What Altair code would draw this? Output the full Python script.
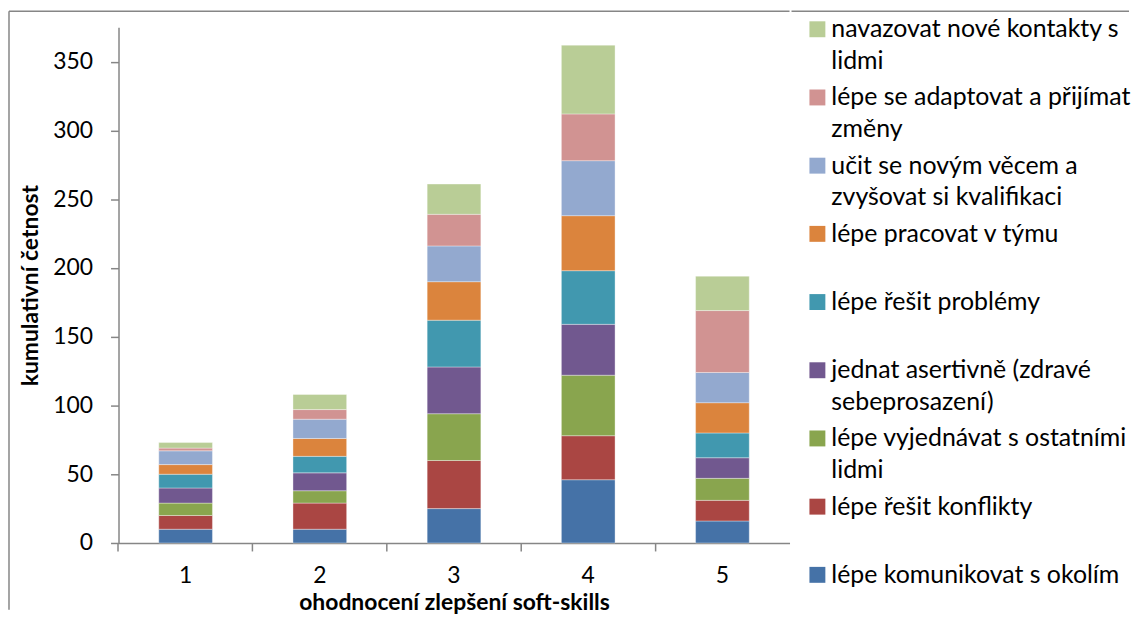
import altair as alt
import pandas as pd

categories = ["1", "2", "3", "4", "5"]

# series from bottom of the stack to top
series = [
    "lépe komunikovat s okolím",
    "lépe řešit konflikty",
    "lépe vyjednávat s ostatními lidmi",
    "jednat asertivně (zdravé sebeprosazení)",
    "lépe řešit problémy",
    "lépe pracovat v týmu",
    "učit se novým věcem a zvyšovat si kvalifikaci",
    "lépe se adaptovat a přijímat změny",
    "navazovat nové kontakty s lidmi",
]
line1 = [
    "lépe komunikovat s okolím",
    "lépe řešit konflikty",
    "lépe vyjednávat s ostatními",
    "jednat asertivně (zdravé",
    "lépe řešit problémy",
    "lépe pracovat v týmu",
    "učit se novým věcem a",
    "lépe se adaptovat a přijímat",
    "navazovat nové kontakty s",
]
line2 = [
    "",
    "",
    "lidmi",
    "sebeprosazení)",
    "",
    "",
    "zvyšovat si kvalifikaci",
    "změny",
    "lidmi",
]
colors = ["#4572A7", "#AA4643", "#89A54E", "#71588F", "#4198AF",
          "#DB843D", "#93A9CF", "#D19392", "#B9CD96"]

komunikovat = [10, 10, 25, 46, 16]
konflikty = [10, 19, 35, 32, 15]
vyjednavat = [9, 9, 34, 44, 16]
asertivne = [11, 13, 34, 37, 15]
problemy = [10, 12, 34, 39, 18]
tym = [7, 13, 28, 40, 22]
ucit = [10, 14, 26, 40, 22]
adaptovat = [2, 7, 23, 34, 45]
kontakty = [4, 11, 22, 50, 25]
values = [komunikovat, konflikty, vyjednavat, asertivne, problemy,
          tym, ucit, adaptovat, kontakty]

y_ticks = [0, 50, 100, 150, 200, 250, 300, 350]

rows = []
for i, s in enumerate(series):
    for c, v in zip(categories, values[i]):
        rows.append({"cat": c, "series": s, "rank": i, "value": v})
df = pd.DataFrame(rows)

leg_df = pd.DataFrame({
    "series": series,
    "line1": line1,
    "line2": line2,
})
legend_order = list(reversed(series))

FONT = "Lato"
AXIS_COLOR = "#868686"
color_scale = alt.Scale(domain=series, range=colors)

bars = alt.Chart(df).mark_bar(stroke="white", strokeWidth=0.6, strokeOpacity=0.6).encode(
    x=alt.X("cat:N", title="ohodnocení zlepšení soft-skills",
            scale=alt.Scale(paddingInner=0.6, paddingOuter=0.3),
            axis=alt.Axis(labelAngle=0, bandPosition=-0.75, tickSize=8,
                          labelPadding=14, titlePadding=4)),
    y=alt.Y("value:Q", stack="zero", title="kumulativní četnost",
            scale=alt.Scale(domain=[0, 375], nice=False, zero=True),
            axis=alt.Axis(values=y_ticks, grid=False, tickSize=8,
                          labelPadding=18, titlePadding=10)),
    color=alt.Color("series:N", scale=color_scale, legend=None),
    order=alt.Order("rank:Q", sort="ascending"),
)

one = pd.DataFrame({"a": [0]})
border_top = alt.Chart(one).mark_rule(color=AXIS_COLOR, strokeWidth=1.5).encode(
    x=alt.value(-110), x2=alt.value(674), y=alt.value(-16))
border_left = alt.Chart(one).mark_rule(color=AXIS_COLOR, strokeWidth=1.5).encode(
    x=alt.value(-110), y=alt.value(-16), y2=alt.value(585))

main = alt.layer(bars, border_top, border_left).properties(width=674, height=518)

ypos = alt.Y("series:N", sort=legend_order,
             scale=alt.Scale(type="point", range=[2, 550], padding=0),
             axis=None)

leg_sq = alt.Chart(leg_df).mark_square(size=256, opacity=1).encode(
    x=alt.value(26), y=ypos,
    color=alt.Color("series:N", scale=color_scale, legend=None),
)
leg_t1 = alt.Chart(leg_df).mark_text(align="left", baseline="middle",
                                     font=FONT, fontSize=25, color="black").encode(
    x=alt.value(40), y=ypos, text="line1:N")
leg_t2 = alt.Chart(leg_df).mark_text(align="left", baseline="middle", dy=32,
                                     font=FONT, fontSize=25, color="black").encode(
    x=alt.value(40), y=ypos, text="line2:N")
leg_border = alt.Chart(one).mark_rule(color=AXIS_COLOR, strokeWidth=1.5).encode(
    x=alt.value(0), x2=alt.value(339), y=alt.value(-16))

legend = alt.layer(leg_border, leg_sq, leg_t1, leg_t2).properties(width=330, height=518)

chart = alt.hconcat(main, legend, spacing=0).properties(
    padding={"left": 0, "top": 1, "right": 0, "bottom": 0}
).configure_view(stroke=None).configure_axis(
    domainColor=AXIS_COLOR, tickColor=AXIS_COLOR, domainWidth=1.5, tickWidth=1.5,
    labelFont=FONT, labelFontSize=23, labelColor="black",
    titleFont=FONT, titleFontSize=23, titleFontWeight="bold", titleColor="black",
)

chart.save("out.html", embed_options={"renderer": "svg", "actions": False})
